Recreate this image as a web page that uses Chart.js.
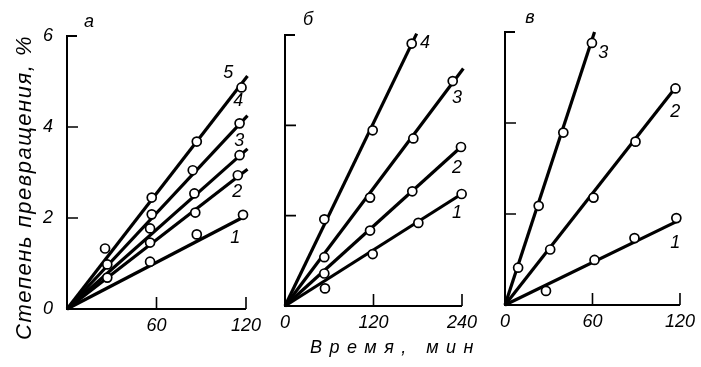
<!DOCTYPE html>
<html><head><meta charset="utf-8">
<script src="https://cdn.jsdelivr.net/npm/chart.js@4/dist/chart.umd.min.js"></script>
<style>
html,body{margin:0;padding:0;background:#fff;}
#wrap{position:relative;width:701px;height:367px;overflow:hidden;background:#fff;}
canvas{position:absolute;left:0;top:0;}
</style></head><body>
<div id="wrap">
<canvas id="ca" width="701" height="367"></canvas>
<canvas id="cb" width="701" height="367"></canvas>
<canvas id="cc" width="701" height="367"></canvas>
</div>
<script>
// ---------------- data ----------------
const yTitle = 'Степень превращения, %';
const xTitle = 'Время, мин';
const panelLetters = ['а', 'б', 'в'];

const yTicks = [0, 2, 4, 6];
const aXTicks = [60, 120];
const bXTicks = [0, 120, 240];
const cXTicks = [0, 60, 120];

// panel а
const aCurves = ['1', '2', '3', '4', '5'];
const aTime = [[55.7, 87, 118], [27, 55.7, 86, 114.5], [55.7, 85.4, 115.7], [27, 56.8, 84.3, 115.7], [25.5, 56.8, 87, 117]];
const aConv = [[1.04, 1.64, 2.07], [0.69, 1.46, 2.12, 2.94], [1.77, 2.54, 3.38], [0.98, 2.08, 3.05, 4.08], [1.33, 2.45, 3.68, 4.87]];
const aFitTime = [120, 121, 121, 121, 121];
const aFitConv = [2.05, 3.07, 3.52, 4.25, 5.12];

// panel б
const bCurves = ['1', '2', '3', '4'];
const bTime = [[54.2, 118.9, 180.8, 239.5], [53.3, 115.3, 172.6, 238.6], [53.3, 115.3, 174, 227.4], [53.3, 118.9, 171.8]];
const bConv = [[0.39, 1.15, 1.84, 2.48], [0.72, 1.67, 2.54, 3.52], [1.08, 2.40, 3.71, 4.98], [1.92, 3.89, 5.81]];
const bFitTime = [239.5, 238.6, 241.8, 178.5];
const bFitConv = [2.48, 3.52, 5.26, 6.03];

// panel в
const cCurves = ['1', '2', '3'];
const cTime = [[28.1, 61.4, 88.8, 117.5], [31, 60.7, 89.5, 116.9], [9, 23.1, 40, 59.6]];
const cConv = [[0.31, 0.99, 1.47, 1.91], [1.22, 2.36, 3.59, 4.76], [0.82, 2.18, 3.79, 5.76]];
const cFitTime = [120, 117.5, 61.4];
const cFitConv = [1.87, 4.80, 6.0];

// -------------- layout (not data) --------------
const FONT = '"Liberation Sans", Arial, sans-serif';
const layouts = {
  a: { L: 67, R: 246, T: 36, B: 309, xMax: 120, showY: true,
       labelAt: [[112.8, 1.56], [114.1, 2.57], [115.4, 3.70], [114.8, 4.57], [108.1, 5.18]],
       letterOff: [22, -14] },
  b: { L: 285, R: 462, T: 35, B: 306, xMax: 240, showY: false,
       labelAt: [[233.2, 2.06], [233.2, 3.06], [233.2, 4.60], [189.8, 5.82]],
       letterOff: [23, -15] },
  c: { L: 505, R: 683, T: 32, B: 305, xMax: 120, showY: false,
       labelAt: [[116.7, 1.36], [116.7, 4.24], [67.4, 5.54]],
       letterOff: [25, -14] }
};
const W = 60, H = 30;

function decorPlugin(lay, letter, curves, xTickVals, extra) {
  return {
    id: 'decor',
    afterDraw(chart) {
      const ctx = chart.ctx, xs = chart.scales.x, ys = chart.scales.y;
      const x0 = xs.getPixelForValue(0), y0 = ys.getPixelForValue(0);
      const yTop = ys.getPixelForValue(6), xEnd = xs.getPixelForValue(lay.xMax);
      ctx.save();
      ctx.strokeStyle = '#000';
      ctx.lineWidth = 2;
      ctx.lineCap = 'butt';
      ctx.beginPath();
      ctx.moveTo(x0 + 10, yTop); ctx.lineTo(x0, yTop); ctx.lineTo(x0, y0); ctx.lineTo(xEnd, y0);
      ctx.stroke();
      ctx.lineWidth = 1.6;
      ctx.beginPath();
      yTicks.forEach(v => { if (v > 0 && v < 6) { const p = ys.getPixelForValue(v); ctx.moveTo(x0, p); ctx.lineTo(x0 + 11, p); } });
      xTickVals.forEach(v => { if (v > 0) { const p = xs.getPixelForValue(v); ctx.moveTo(p, y0); ctx.lineTo(p, y0 - 12); } });
      ctx.stroke();
      ctx.fillStyle = '#000';
      ctx.textAlign = 'center';
      ctx.textBaseline = 'middle';
      ctx.font = 'italic 18px ' + FONT;
      ctx.fillText(letter, x0 + lay.letterOff[0], yTop + lay.letterOff[1]);
      curves.forEach((c, i) => {
        const at = lay.labelAt[i];
        ctx.fillText(c, xs.getPixelForValue(at[0]), ys.getPixelForValue(at[1]));
      });
      if (extra) extra(chart, ctx, x0, y0, yTop, xEnd);
      ctx.restore();
    }
  };
}

function makeChart(id, lay, letter, curves, times, convs, fitT, fitC, xTickVals, extra) {
  const datasets = [];
  curves.forEach((c, i) => {
    datasets.push({
      label: 'точки ' + c,
      data: times[i].map((t, j) => ({ x: t, y: convs[i][j] })),
      showLine: false, pointRadius: 4.5, pointBorderWidth: 1.7,
      pointBackgroundColor: '#fff', pointBorderColor: '#000', order: 0, clip: false
    });
  });
  curves.forEach((c, i) => {
    datasets.push({
      label: c,
      data: [{ x: 0, y: 0 }, { x: fitT[i], y: fitC[i] }],
      showLine: true, pointRadius: 0, borderWidth: 3.2, borderColor: '#000',
      order: 1, clip: false
    });
  });
  return new Chart(document.getElementById(id), {
    type: 'scatter',
    data: { datasets },
    options: {
      responsive: false, animation: false, devicePixelRatio: 1, events: [],
      layout: { padding: { left: lay.L - W, right: 701 - lay.R, top: lay.T, bottom: 367 - lay.B - H } },
      plugins: { legend: { display: false }, tooltip: { enabled: false } },
      scales: {
        x: {
          type: 'linear', min: 0, max: lay.xMax,
          grid: { display: false, drawTicks: false }, border: { display: false },
          afterBuildTicks: s => { s.ticks = xTickVals.map(v => ({ value: v })); },
          afterFit: s => { s.height = H; },
          ticks: { padding: 6, color: '#000', maxRotation: 0, autoSkip: false,
                   font: { family: FONT, size: 18, style: 'italic' } }
        },
        y: {
          type: 'linear', min: 0, max: 6,
          grid: { display: false, drawTicks: false }, border: { display: false },
          afterBuildTicks: s => { s.ticks = yTicks.map(v => ({ value: v })); },
          afterFit: s => { s.width = W; },
          ticks: { display: lay.showY, padding: 14, color: '#000', autoSkip: false,
                   font: { family: FONT, size: 18, style: 'italic' } }
        }
      }
    },
    plugins: [decorPlugin(lay, letter, curves, xTickVals, extra)]
  });
}

makeChart('ca', layouts.a, panelLetters[0], aCurves, aTime, aConv, aFitTime, aFitConv, aXTicks,
  (chart, ctx, x0, y0, yTop) => {
    ctx.save();
    ctx.translate(x0 - 42, (yTop + y0) / 2 + 15);
    ctx.rotate(-Math.PI / 2);
    ctx.font = 'italic 22px ' + FONT;
    ctx.letterSpacing = '1.5px';
    ctx.textAlign = 'center';
    ctx.textBaseline = 'middle';
    ctx.fillText(yTitle, 0, 0);
    ctx.restore();
  });
makeChart('cb', layouts.b, panelLetters[1], bCurves, bTime, bConv, bFitTime, bFitConv, bXTicks,
  (chart, ctx, x0, y0, yTop, xEnd) => {
    ctx.save();
    ctx.font = 'italic 18px ' + FONT;
    ctx.letterSpacing = '7.5px';
    ctx.textAlign = 'center';
    ctx.textBaseline = 'middle';
    ctx.fillText(xTitle, (x0 + xEnd) / 2 + 22, y0 + 42);
    ctx.restore();
  });
makeChart('cc', layouts.c, panelLetters[2], cCurves, cTime, cConv, cFitTime, cFitConv, cXTicks);
</script>
</body></html>
